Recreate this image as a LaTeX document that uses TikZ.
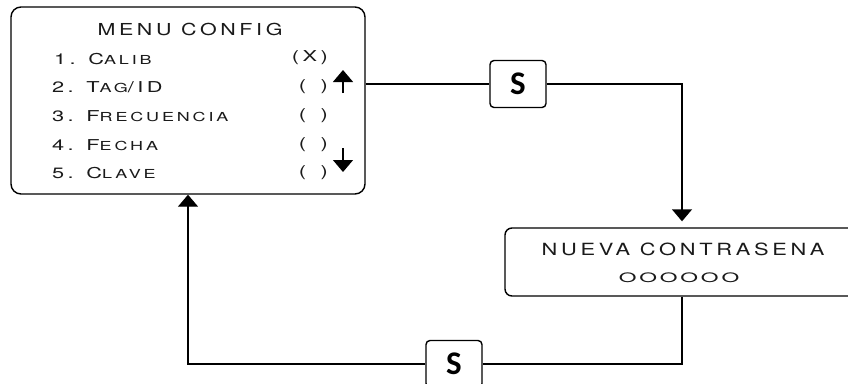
\documentclass[tikz,border=0pt]{standalone}
\usepackage{fontspec}
\usetikzlibrary{arrows.meta}
\newfontfamily\lcdfont[FakeStretch=1.3,LetterSpace=22]{TeX Gyre Heros}
\newfontfamily\lcditemfont[FakeStretch=1.45,LetterSpace=23]{TeX Gyre Heros}
\newfontfamily\lcdwidefont[FakeStretch=1.75,LetterSpace=22]{TeX Gyre Heros}
\newfontfamily\sboxfont{Carlito}
\newcommand\lc[1]{{\fontsize{12.4}{12.4}\selectfont #1}}
\definecolor{txt}{HTML}{1A1A1A}
\tikzset{
  frame/.style={draw=black, line width=1.4pt, rounded corners=#1, inner sep=0pt},
  sbox/.style={draw=black, line width=1.4pt, rounded corners=4pt, minimum width=56pt, minimum height=47pt, inner sep=0pt,
    font=\sboxfont\bfseries\fontsize{33}{33}\selectfont},
  lcdtitle/.style={inner sep=0pt, text=txt, font=\lcdfont\fontsize{16.5}{17}\selectfont},
  lcditem/.style={inner sep=0pt, anchor=west, text=txt, font=\lcditemfont\fontsize{15}{15}\selectfont},
  choice/.style={inner sep=0pt, anchor=east, text=txt, font=\lcditemfont\fontsize{15}{15}\selectfont},
  conn/.style={line width=1.4pt},
  arr/.style={line width=1.4pt, -{Triangle[width=20pt,length=12pt]}},
}
\begin{document}
\begin{tikzpicture}[x=1pt,y=-1pt]
\useasboundingbox (0,0) rectangle (848,383);
% main boxes
\node[frame=10pt, minimum width=354pt, minimum height=187pt] (menu) at (188,100.5) {};
\node[frame=7pt, minimum width=354pt, minimum height=68pt] (nueva) at (682,262) {};
\node[sbox] (s1) at (518,84) {S};
\node[sbox] (s2) at (454,364) {S};
% menu text
\node[lcdtitle] (t0) at (190,29) {MENU CONFIG};
\node[lcditem] (i1) at (54,59) {1. C\lc{ALIB}};
\node[lcditem] (i2) at (52,87) {2. T\lc{AG}/ID};
\node[lcditem] (i3) at (52,116) {3. F\lc{RECUENCIA}};
\node[lcditem] (i4) at (52,145) {4. F\lc{ECHA}};
\node[lcditem] (i5) at (52,173) {5. C\lc{LAVE}};
\node[choice] (m1) at (328,58) {(X)};
\node[choice] (m2) at (328,87) {(\phantom{X})};
\node[choice] (m3) at (328,116) {(\phantom{X})};
\node[choice] (m4) at (328,145) {(\phantom{X})};
\node[choice] (m5) at (328,173) {(\phantom{X})};
% scroll arrows
\coordinate (u0) at (343,93);
\coordinate (u1) at (343,70);
\coordinate (d0) at (343,148);
\coordinate (d1) at (343,172);
\draw[arr] (u0) -- (u1);
\draw[arr] (d0) -- (d1);
% nueva text
\node[lcdtitle, font=\lcdfont\fontsize{16.8}{17}\selectfont] (n1) at (683,249) {NUEVA CONTRASENA};
\node[lcdtitle, font=\lcdwidefont\fontsize{13}{13}\selectfont] (n2) at (679,278) {OOOOOO};
% connectors
\draw[conn] (menu.east |- s1.west) -- (s1.west);
\draw[arr, shorten >=6pt] (s1.east) -| (nueva.north);
\draw[conn] (nueva.south) |- (s2.east);
\draw[arr] (s2.west) -| (menu.south);
\end{tikzpicture}
\end{document}
